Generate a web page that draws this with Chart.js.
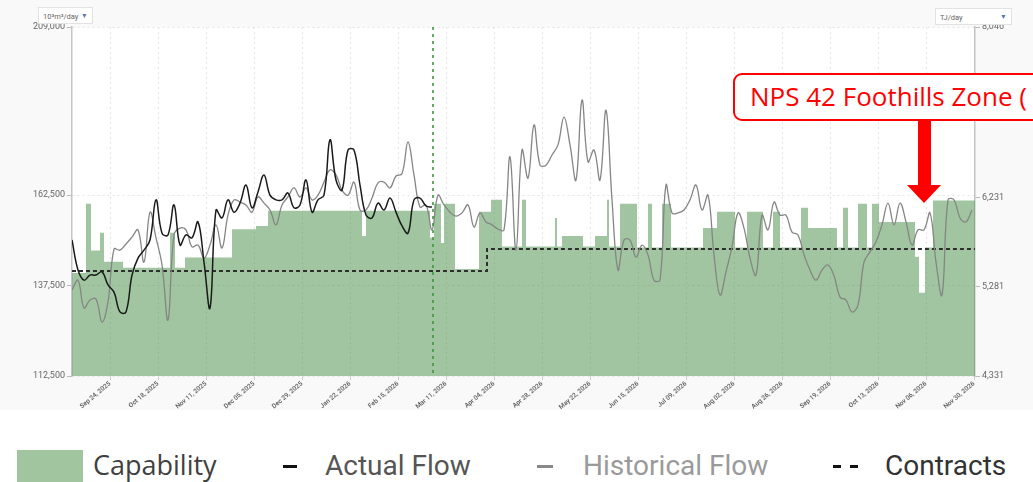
<!DOCTYPE html>
<html>
<head>
<meta charset="utf-8">
<script src="https://cdn.jsdelivr.net/npm/chart.js@4.4.1/dist/chart.umd.min.js"></script>
<style>
  body { margin: 0; width: 1033px; height: 482px; overflow: hidden; background: #fff; position: relative; font-family: Roboto, sans-serif; }
  #chartBox { position: absolute; left: 0; top: 0; width: 1033px; height: 410px; background: #f9f9f9; }
  .dd { position: absolute; height: 17px; background: #fff; border: 1px solid #e2e2e2; font: 7.5px Roboto, sans-serif; color: #666; line-height: 17px; padding-left: 4px; box-sizing: border-box; }
  .dd span { position: absolute; right: 4px; top: 0; color: #5a7bb0; font-size: 7px; }
  #note { position: absolute; left: 733px; top: 73px; width: 330px; height: 48px; box-sizing: border-box; border: 2.5px solid #f00; border-radius: 9px; background: #fff; color: #f00; font: 26px "Open Sans", sans-serif; line-height: 42px; padding-left: 15px; white-space: nowrap; }
  #arrow { position: absolute; left: 900px; top: 120px; }
  .lg { position: absolute; top: 446px; height: 40px; line-height: 40px; white-space: nowrap; }
</style>
</head>
<body>
<div id="chartBox"><canvas id="flowChart" width="1033" height="410"></canvas></div>
<div class="dd" style="left:38px;top:7px;width:55px">10³m³/day<span>▼</span></div>
<div class="dd" style="left:935px;top:8px;width:77px">TJ/day<span>▼</span></div>
<div id="note">NPS 42 Foothills Zone (</div>
<svg id="arrow" width="50" height="90">
  <rect x="18" y="0" width="13" height="66" fill="#f00"/>
  <polygon points="7,65 41,65 24,83" fill="#f00"/>
</svg>

<div style="position:absolute;left:17px;top:450px;width:66px;height:32px;background:#a1c59f"></div>
<div class="lg" style="left:93px;font:27px 'Open Sans',sans-serif;color:#404040">Capability</div>
<div style="position:absolute;left:283px;top:465px;width:14px;height:3px;background:#111"></div>
<div class="lg" style="left:325px;top:449px;font:28px Roboto,sans-serif;color:#555">Actual Flow</div>
<div style="position:absolute;left:537px;top:465px;width:16px;height:3px;background:#888"></div>
<div class="lg" style="left:583px;top:449px;font:28px Roboto,sans-serif;color:#9a9a9a">Historical Flow</div>
<div style="position:absolute;left:833px;top:465px;width:8px;height:3px;background:#111"></div>
<div style="position:absolute;left:850px;top:465px;width:8px;height:3px;background:#111"></div>
<div class="lg" style="left:885px;top:449px;font:28px Roboto,sans-serif;color:#333">Contracts</div>

<script>
// dia 0 = 05 sep 2025, un dia por unidad en el eje x
const xTickLabels = ['Sep 24, 2025', 'Oct 18, 2025', 'Nov 11, 2025', 'Dec 05, 2025', 'Dec 29, 2025',
    'Jan 22, 2026', 'Feb 15, 2026', 'Mar 11, 2026', 'Apr 04, 2026', 'Apr 28, 2026', 'May 22, 2026',
    'Jun 15, 2026', 'Jul 09, 2026', 'Aug 02, 2026', 'Aug 26, 2026', 'Sep 19, 2026', 'Oct 13, 2026',
    'Nov 06, 2026', 'Nov 30, 2026'];
const firstTickDay = 19;
const tickStepDays = 24;
const lastDay = 451.5;
const todayDay = 180.5;

// flujos muestreados cada 3 dias (10³m³/day)
const flowStepDays = 3;
const historicalFlow = [
    136300, 139000, 131300, 133500, 133800, 127400, 133000, 147600, 147300, 149000,
    150900, 152900, 144000, 157800, 150700, 143200, 128000, 151500, 153400, 152900,
    148200, 148700, 145100, 148700, 154300, 147900, 157000, 161200, 160600, 159800,
    157800, 162000, 160300, 158400, 154300, 159800, 162000, 164500, 162000, 164500,
    161200, 162500, 166100, 169500, 168100, 163900, 162500, 166100, 158400, 158400,
    161700, 165900, 166100, 164500, 167800, 168400, 177200, 168100, 159200, 159800,
    152900, 162500, 159800, 157800, 156700, 157600, 159800, 153700, 157600, 155100,
    154300, 153100, 152900, 173100, 147300, 175000, 167200, 181900, 170800, 170800,
    173600, 176400, 184100, 176400, 166700, 188800, 171700, 175000, 166700, 186000,
    161200, 141800, 150100, 150100, 145400, 148700, 146000, 139000, 139000, 165300,
    157600, 157600, 158400, 161200, 165300, 158400, 162500, 146000, 134900, 141300,
    148200, 157600, 153400, 145100, 140400, 157000, 152900, 160600, 157000, 157000,
    152300, 151500, 146000, 141800, 139000, 141800, 143200, 140200, 134300, 133500,
    130200, 132100, 144000, 146800, 149600, 154300, 160300, 154300, 160300, 155100,
    148700, 152900, 152900, 157600, 144000, 134900, 161200, 161200, 156200, 155100,
    158400
];
const actualFlow = [
    150100, 141800, 139000, 140400, 140400, 141300, 137700, 135700, 130200, 130200,
    140400, 145100, 147300, 150100, 161200, 152000, 151500, 159800, 148700, 151500,
    150700, 155100, 144000, 131300, 158400, 156200, 161200, 157800, 160300, 165300,
    159000, 163400, 168100, 162500, 161200, 161200, 163100, 159000, 159800, 166700,
    157800, 161200, 162500, 177800, 166700, 163900, 175000, 175000, 165300, 157000,
    156200, 160300, 158400, 161700, 157800, 154000, 152000, 161200, 161700, 159500,
    159200
];

// capacidad: escalones (dia de inicio, valor)
const capabilityDays = [0, 7, 9.5, 14, 16, 25.5, 49, 51.5, 56.5, 80, 92, 98, 145, 147, 179, 181,
    184.5, 186, 191.5, 203.5, 209.5, 215, 225, 227, 241.5, 242.5, 245, 255.5, 261.5, 267.5, 268.5,
    274, 282.5, 288, 290, 295, 299.5, 315.5, 322.5, 331.5, 337.5, 345.5, 350.5, 354, 364.5, 368,
    382.5, 385.5, 388, 393, 397.5, 400, 403.5, 421.5, 423.5, 426.5, 430.5, 451.5];
const capabilityValues = [141000, 160100, 147200, 152100, 144100, 142400, 152100, 142400, 145300,
    153100, 154000, 158200, 151200, 158200, 150700, 160100, 149300, 160100, 142100, 157900, 161200,
    148300, 161200, 148300, 156200, 148300, 151200, 148300, 151200, 161200, 148300, 160100, 148000,
    160100, 148000, 160100, 148000, 153400, 157900, 148000, 157900, 148000, 157900, 148000, 159000,
    153400, 148000, 159000, 148000, 160100, 148000, 160100, 155100, 145500, 135500, 148000, 161000,
    161000];

const contractDays = [0, 207.5, 451.5];
const contractValues = [141500, 147600, 147600];

const leftTicks = [112500, 137500, 162500, 209000];
const rightTicks = [4331, 5281, 6231, 8046];

function sampled(values) {
    return values.map((v, i) => ({ x: i * flowStepDays, y: v }));
}
function paired(days, values) {
    return days.map((d, i) => ({ x: d, y: values[i] }));
}
const fmt = v => Number(v).toLocaleString('en-US');

// fondo blanco del area del grafico
const areaBg = {
    id: 'areaBg',
    beforeDraw(chart) {
        const { ctx, chartArea: a } = chart;
        ctx.save();
        ctx.fillStyle = '#fff';
        ctx.fillRect(a.left, a.top, a.width, a.height);
        ctx.restore();
    }
};

// linea vertical de "hoy"
const todayLine = {
    id: 'todayLine',
    afterDatasetsDraw(chart) {
        const { ctx, chartArea: a } = chart;
        const x = chart.scales.x.getPixelForValue(todayDay);
        ctx.save();
        ctx.strokeStyle = '#3f943f';
        ctx.lineWidth = 1.6;
        ctx.setLineDash([3, 4]);
        ctx.beginPath();
        ctx.moveTo(x, a.top);
        ctx.lineTo(x, a.bottom);
        ctx.stroke();
        ctx.restore();
    }
};

const tickFont = { family: 'Roboto, sans-serif', size: 9 };

new Chart(document.getElementById('flowChart'), {
    type: 'line',
    data: {
        datasets: [{
            label: 'Actual Flow',
            data: sampled(actualFlow),
            borderColor: '#1a1a1a',
            borderWidth: 1.5,
            tension: 0.4,
            pointRadius: 0
        }, {
            label: 'Historical Flow',
            data: sampled(historicalFlow),
            borderColor: '#858585',
            borderWidth: 1.3,
            tension: 0.4,
            pointRadius: 0
        }, {
            label: 'Contracts',
            data: paired(contractDays, contractValues),
            borderColor: '#2e2e2e',
            borderWidth: 2,
            borderDash: [4, 3],
            stepped: true,
            pointRadius: 0
        }, {
            label: 'Capability',
            data: paired(capabilityDays, capabilityValues),
            borderColor: 'rgba(0,0,0,0)',
            borderWidth: 0,
            backgroundColor: 'rgba(75,145,75,0.53)',
            fill: 'start',
            stepped: true,
            pointRadius: 0
        }]
    },
    options: {
        responsive: false,
        animation: false,
        layout: { padding: { top: 27, left: 0, right: 0, bottom: 0 } },
        plugins: { legend: { display: false }, tooltip: { enabled: false } },
        scales: {
            x: {
                type: 'linear',
                min: 0,
                max: lastDay,
                afterBuildTicks: s => { s.ticks = xTickLabels.map((l, i) => ({ value: firstTickDay + i * tickStepDays })); },
                afterFit: s => { s.height = 34; },
                ticks: {
                    autoSkip: false,
                    minRotation: 40,
                    maxRotation: 40,
                    padding: 0,
                    color: '#555',
                    font: { family: 'Roboto, sans-serif', size: 6.5, weight: '500' },
                    callback: (v, i) => xTickLabels[i]
                },
                grid: { color: '#e4e4e4', borderDash: [2, 3], tickLength: 4, tickColor: '#ccc' },
                border: { display: false, dash: [2, 3] }
            },
            y: {
                position: 'left',
                min: 112500,
                max: 209000,
                afterBuildTicks: s => { s.ticks = leftTicks.map(v => ({ value: v })); },
                afterFit: s => { s.width = 72; },
                ticks: { color: '#666', font: tickFont, padding: 2, callback: v => fmt(v) },
                grid: { color: '#e4e4e4', tickLength: 5, tickColor: '#bbb' },
                border: { color: '#c4c4c4', width: 1.5, dash: [2, 3] }
            },
            y2: {
                position: 'right',
                min: 4331,
                max: 8046,
                afterBuildTicks: s => { s.ticks = rightTicks.map(v => ({ value: v })); },
                afterFit: s => { s.width = 58; },
                ticks: { color: '#666', font: tickFont, padding: 2, callback: v => fmt(v) },
                grid: { drawOnChartArea: false, tickLength: 5, tickColor: '#bbb' },
                border: { color: '#c4c4c4', width: 1.5 }
            }
        }
    },
    plugins: [areaBg, todayLine]
});
</script>
</body>
</html>
